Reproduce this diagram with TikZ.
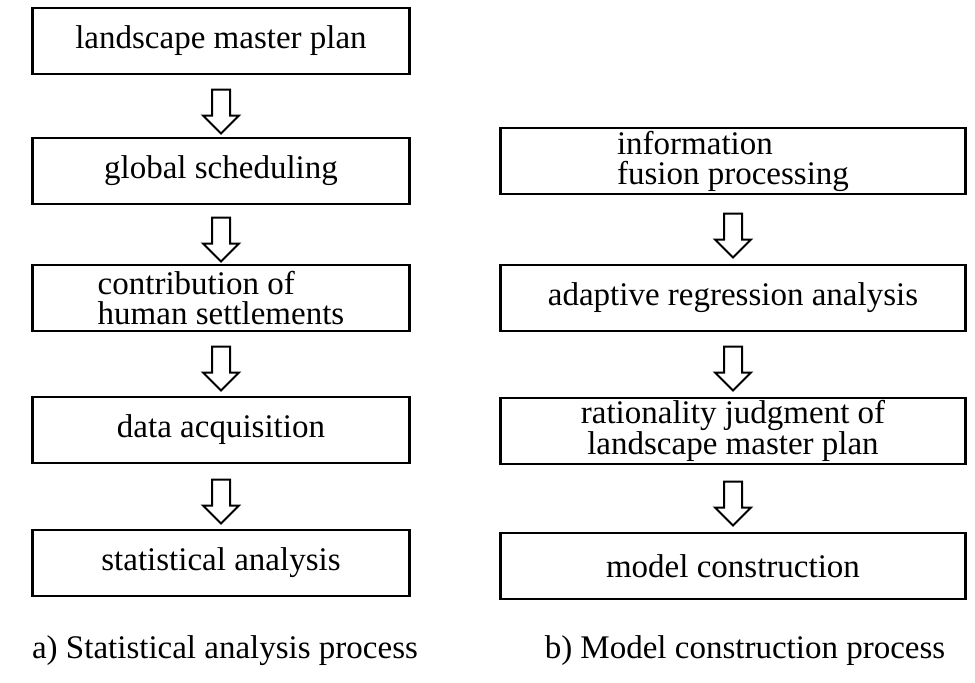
\documentclass[tikz,border=0pt]{standalone}
\usepackage{fontspec}
\setmainfont{Liberation Serif}
\usetikzlibrary{shapes.arrows,positioning}
\tikzset{
  procbox/.style={draw,line width=2.2pt,minimum height=66pt,inner sep=2pt,font=\fontsize{33}{30}\selectfont},
  lbox/.style={procbox,minimum width=377pt},
  rbox/.style={procbox,minimum width=465pt},
  down/.style={single arrow,draw,line width=2pt,rotate=-90,minimum height=44pt,
    inner sep=8pt,single arrow head extend=9pt,single arrow tip angle=90},
  caption/.style={font=\fontsize{33}{33}\selectfont}
}
\begin{document}
\begin{tikzpicture}[x=1pt,y=-1pt]
\useasboundingbox (0,0) rectangle (975,683);
% left column
\node[lbox] (plan) at (221,41) {landscape master plan};
\node[lbox] (sched) at (221,171) {global scheduling};
\node[lbox,align=left] (contrib) at (221,298) {contribution of\\human settlements};
\node[lbox] (acq) at (221,430) {data acquisition};
\node[lbox] (stat) at (221,563) {statistical analysis};
\node[down] (la1) at (221,107) {};
\node[down] (la2) at (221,235) {};
\node[down] (la3) at (221,364) {};
\node[down] (la4) at (221,497) {};
% right column
\node[rbox,align=left] (fusion) at (733,161) {information\\fusion processing};
\node[rbox] (regr) at (733,298) {adaptive regression analysis};
\node[rbox,align=center] (judge) at (733,431) {rationality judgment of\\landscape master plan};
\node[rbox] (model) at (733,566) {model construction};
\node[down] (ra1) at (733,231) {};
\node[down] (ra2) at (733,364) {};
\node[down] (ra3) at (733,499) {};
% captions
\node[caption] (capa) at (225,651) {a) Statistical analysis process};
\node[caption] (capb) at (745,651) {b) Model construction process};
\end{tikzpicture}
\end{document}
